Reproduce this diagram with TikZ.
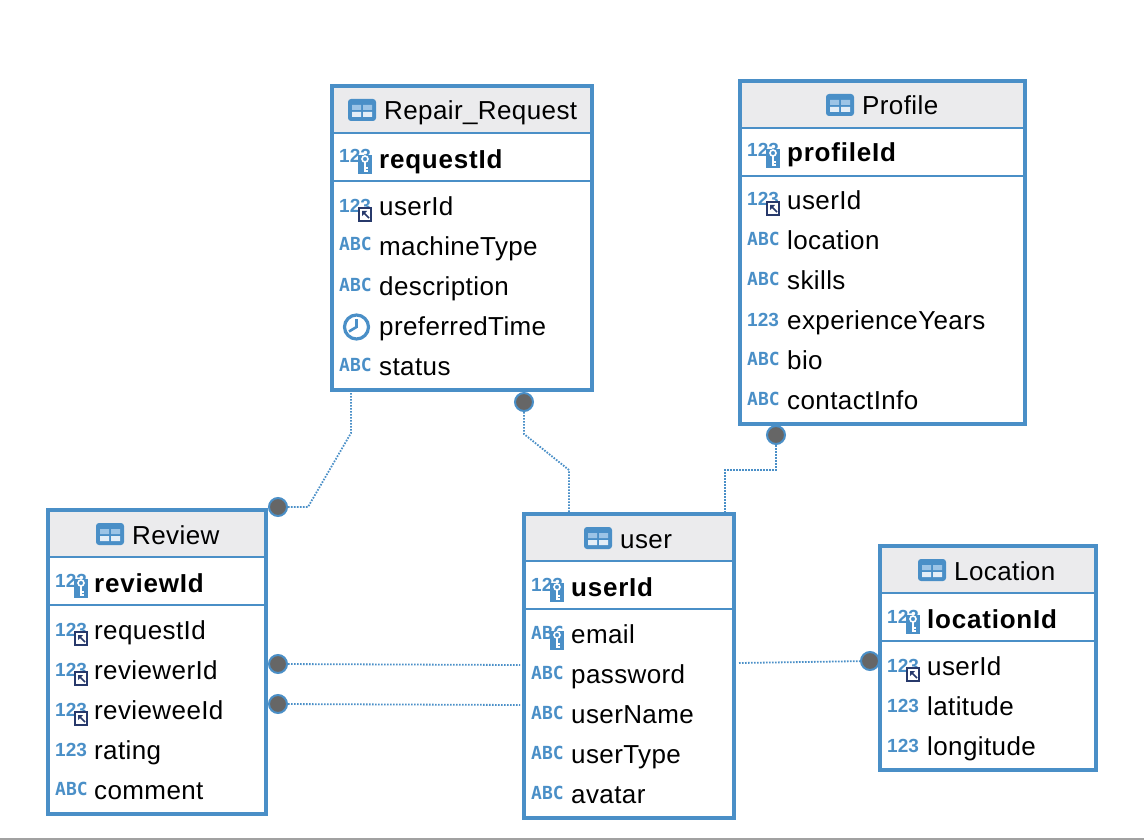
\documentclass[tikz,border=0pt]{standalone}
\usepackage{fontspec}
\setmainfont[LetterSpace=1.5,BoldFeatures={LetterSpace=3}]{Liberation Sans}
\newfontfamily\numfont{Liberation Sans}
\newfontfamily\iconfont{DejaVu Sans Mono}
\definecolor{erblue}{HTML}{4A8FC7}
\definecolor{erlight}{HTML}{9CC4E6}
\definecolor{ernavy}{HTML}{27396B}
\definecolor{erhead}{HTML}{EBEBED}
\definecolor{erdot}{HTML}{666666}
\tikzset{
    tablebox/.style={draw=erblue, line width=3.6pt, inner sep=0pt, outer sep=0pt},
    headbox/.style={fill=erhead, inner sep=0pt, outer sep=0pt},
    rowline/.style={erblue, line width=2pt},
    titletext/.style={anchor=base west, inner sep=0pt, font=\fontsize{26}{30}\selectfont},
    fieldtext/.style={anchor=base west, inner sep=0pt, font=\fontsize{26}{30}\selectfont},
    keytext/.style={fieldtext, font=\fontsize{26}{30}\selectfont\bfseries},
    typetext/.style={anchor=base west, inner sep=0pt, text=erblue, font=\iconfont\fontsize{18}{20}\selectfont\bfseries},
    numtext/.style={anchor=base west, inner sep=0pt, text=erblue, font=\numfont\fontsize{19}{20}\selectfont\bfseries},
    reldot/.style={circle, draw=erblue, fill=erdot, line width=2pt, minimum size=18pt, inner sep=0pt},
    relline/.style={erblue, line width=1.8pt, dash pattern=on 1.6pt off 1.4pt},
    keymark/.pic={
        \fill[erblue] (18,-4) rectangle (32,15);
        \draw[white, line width=1.6pt] (25,0) circle (3);
        \draw[white, line width=1.8pt] (25,3) -- (25,13) (25,9) -- (28,9) (25,12) -- (28,12);
    },
    fkmark/.pic={
        \fill[ernavy] (18,0) rectangle (32,15);
        \fill[white] (20,2) rectangle (30,13);
        \draw[ernavy, line width=1.5pt] (23,5) -- (29,11);
        \fill[ernavy] (22,4) -- (27,4) -- (22,9) -- cycle;
    },
    numtype/.pic={\node[numtext] (lbl) at (-1,5) {123};},
    abctype/.pic={\node[typetext] (lbl) at (-1,4) {ABC};},
    numkey/.pic={\node[numtext] (lbl) at (-1,4) {123}; \pic {keymark};},
    abckey/.pic={\node[typetext] (lbl) at (-1,4) {ABC}; \pic {keymark};},
    numfk/.pic={\node[numtext] (lbl) at (-1,5) {123}; \pic {fkmark};},
    clocktype/.pic={
        \draw[erblue, line width=3.2pt] (16.5,0) circle (12);
        \draw[erblue, line width=2.6pt] (16.5,-8) -- (16.5,0) -- (9,4.5);
    },
    tablemark/.pic={
        \fill[erblue, rounded corners=3pt] (-14,-11) rectangle (14,11);
        \fill[erlight] (-10,-5) rectangle (-1,0) (1,-5) rectangle (10,0);
        \fill[white!85!erblue] (-10,2) rectangle (-1,7) (1,2) rectangle (10,7);
    },
}
\begin{document}
\begin{tikzpicture}[x=1pt, y=-1pt]
    \useasboundingbox (0,0) rectangle (1144,840);

    % Bottom edge of the window
    \fill[black!37] (0,838) rectangle (1144,840);

    % Table frames with their titles
    \foreach \nm/\xa/\xb/\ya/\yb/\ttl/\xt in {
        repair/332/592/86/390/Repair\_Request/384,
        profile/740/1025/81/424/Profile/862,
        review/48/266/510/814/Review/132,
        user/524/734/514/818/user/620,
        location/880/1096/546/770/Location/954} {
        \node[headbox, minimum width={(\xb-\xa)*1pt}, minimum height=47pt] (\nm-head) at ({(\xa+\xb)/2},\ya+23.5) {};
        \node[tablebox, minimum width={(\xb-\xa)*1pt}, minimum height={(\yb-\ya)*1pt}] (\nm) at ({(\xa+\xb)/2},{(\ya+\yb)/2}) {};
        \draw[rowline] (\nm.west |- 0,\ya+47) -- (\nm.east |- 0,\ya+47);
        \draw[rowline] (\nm.west |- 0,\ya+95) -- (\nm.east |- 0,\ya+95);
        \pic (\nm-mark) at (\xt-22,\ya+24) {tablemark};
        \node[titletext] (\nm-title) at (\xt,\ya+34) {\ttl};
    }

    % Repair_Request fields
    \pic (repair-key) at (340,159) {numkey};
    \node[keytext] (repair-requestId) at (379,168) {requestId};
    \foreach \y/\txt/\ico in {207/userId/numfk, 247/machineType/abctype, 287/description/abctype,
        327/preferredTime/clocktype, 367/status/abctype} {
        \pic (repair-\txt-ico) at (340,\y) {\ico};
        \node[fieldtext] (repair-\txt) at (379,\y+8.7) {\txt};
    }

    % Profile fields
    \pic (profile-key) at (748,153) {numkey};
    \node[keytext] (profile-profileId) at (787,162) {profileId};
    \foreach \y/\txt/\ico in {201/userId/numfk, 241/location/abctype, 281/skills/abctype,
        321/experienceYears/numtype, 361/bio/abctype, 401/contactInfo/abctype} {
        \pic (profile-\txt-ico) at (748,\y) {\ico};
        \node[fieldtext] (profile-\txt) at (787,\y+8.7) {\txt};
    }

    % Review fields
    \pic (review-key) at (56,583) {numkey};
    \node[keytext] (review-reviewId) at (94,592) {reviewId};
    \foreach \y/\txt/\ico in {631/requestId/numfk, 671/reviewerId/numfk, 711/revieweeId/numfk,
        751/rating/numtype, 791/comment/abctype} {
        \pic (review-\txt-ico) at (56,\y) {\ico};
        \node[fieldtext] (review-\txt) at (94,\y+8.7) {\txt};
    }

    % user fields
    \pic (user-key) at (532,587) {numkey};
    \node[keytext] (user-userId) at (571,596) {userId};
    \foreach \y/\txt/\ico in {635/email/abckey, 675/password/abctype, 715/userName/abctype,
        755/userType/abctype, 795/avatar/abctype} {
        \pic (user-\txt-ico) at (532,\y) {\ico};
        \node[fieldtext] (user-\txt) at (571,\y+8.7) {\txt};
    }

    % Location fields
    \pic (location-key) at (888,619) {numkey};
    \node[keytext] (location-locationId) at (927,628) {locationId};
    \foreach \y/\txt/\ico in {667/userId/numfk, 707/latitude/numtype, 747/longitude/numtype} {
        \pic (location-\txt-ico) at (888,\y) {\ico};
        \node[fieldtext] (location-\txt) at (927,\y+8.7) {\txt};
    }

    % Relation ends
    \node[reldot] (dotreview) at (278,507) {};
    \node[reldot] (dotrepair) at (524,402) {};
    \node[reldot] (dotprofile) at (776,435) {};
    \node[reldot] (dotreviewer) at (278,664) {};
    \node[reldot] (dotreviewee) at (278,704) {};
    \node[reldot] (dotlocation) at (870,661) {};

    % Bends and free ends of the relations
    \coordinate (bendA) at (351,433);
    \coordinate (bendB) at (308,507);
    \coordinate (bendC) at (524,434);
    \coordinate (bendD) at (569,470);
    \coordinate (bendE) at (776,470);
    \coordinate (bendF) at (725,470);
    \coordinate (endA) at (520,665);
    \coordinate (endB) at (520,705);
    \coordinate (endC) at (739,663);

    % Relations
    \draw[relline] (repair.south -| bendA) -- (bendA) -- (bendB) -- (dotreview);
    \draw[relline] (dotrepair) -- (bendC) -- (bendD) -- (user.north -| bendD);
    \draw[relline] (dotprofile) -- (bendE) -- (bendF) -- (user.north -| bendF);
    \draw[relline] (dotreviewer) -- (endA);
    \draw[relline] (dotreviewee) -- (endB);
    \draw[relline] (endC) -- (dotlocation);
\end{tikzpicture}
\end{document}
